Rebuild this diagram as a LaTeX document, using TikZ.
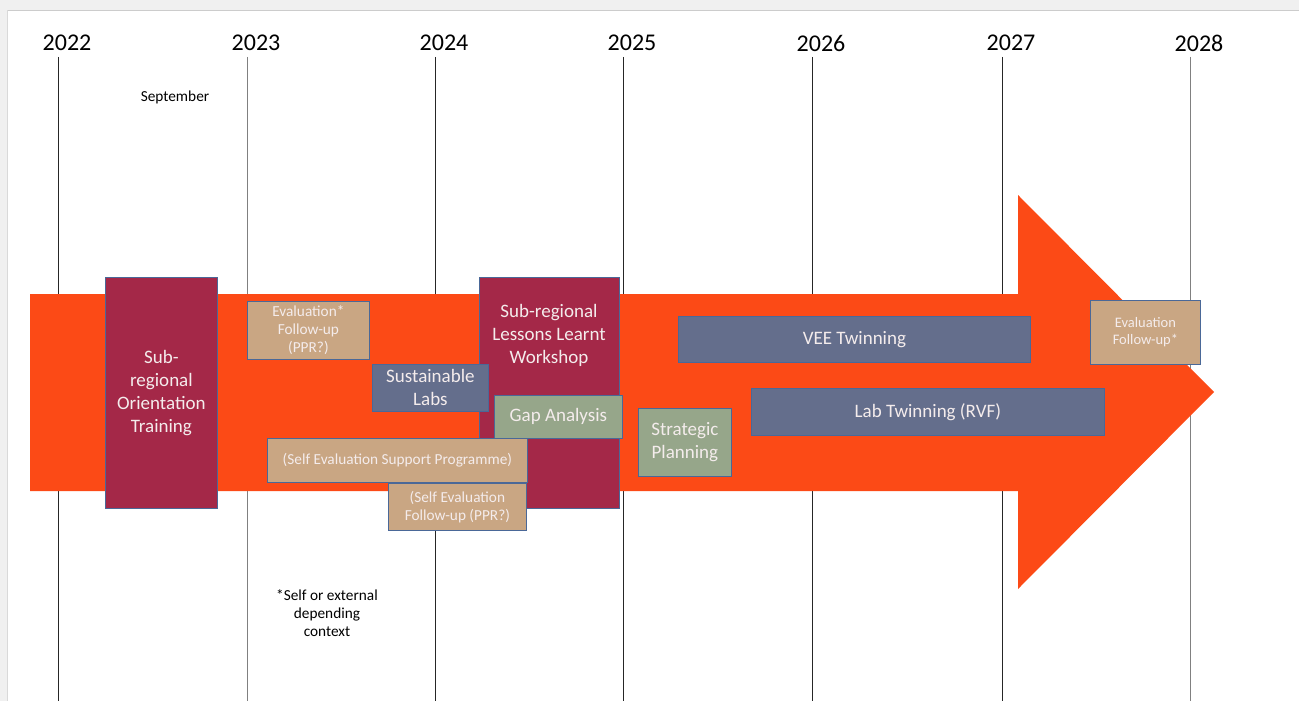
\documentclass[tikz,border=0pt]{standalone}
\usepackage{fontspec}
\setmainfont{Carlito}
\usepackage{tikz}
\usetikzlibrary{positioning}
\definecolor{arrowred}{RGB}{252,74,22}
\definecolor{maroon}{RGB}{164,40,72}
\definecolor{tan}{RGB}{201,166,131}
\definecolor{slate}{RGB}{100,110,140}
\definecolor{sage}{RGB}{150,166,138}
\definecolor{edge}{RGB}{74,104,152}
\definecolor{boxtext}{RGB}{244,236,236}
\definecolor{frame}{RGB}{240,240,240}

\begin{document}
\begin{tikzpicture}[x=1pt, y=-1pt, every node/.style={align=center, inner sep=0pt},
box/.style={draw=edge, line width=0.8pt, text=boxtext, anchor=north west,
font=\fontsize{19}{23}\selectfont},
small/.style={font=\fontsize{15.3}{18}\selectfont}]
\useasboundingbox (0,0) rectangle (1299,701);
% screenshot frame
\fill[frame] (0,0) rectangle (1299,10);
\draw[gray!40] (8,10.5) -- (1299,10.5);
\fill[frame] (0,10) rectangle (7.5,701);
\draw[gray!30] (7.5,10.5) -- (7.5,701);
% years
\foreach \yr/\x/\c in {2022/58/black!85, 2023/247/gray, 2024/435/black!85,
2025/623/black!85, 2026/812/black!85, 2027/1002/black!85, 2028/1190/gray}{
\node[font=\fontsize{24}{28}\selectfont] (y\yr) at (\x+9,43) {\yr};
\draw[\c, line width=1pt] (\x,57) -- (\x,701);}
% big arrow
\fill[arrowred] (30,294) -- (1018,294) -- (1018,195) -- (1214,392)
-- (1018,589) -- (1018,491) -- (30,491) -- cycle;
% activities
\node[box, fill=maroon, minimum width=112pt, minimum height=231pt] (orient) at (105,277)
{Sub-\\regional\\Orientation\\Training};
\node[box, small, fill=tan, minimum width=122pt, minimum height=58pt] (evalfu) at (247,301)
{Evaluation*\\Follow-up\\(PPR?)};
\node[box, fill=maroon, minimum width=140pt, minimum height=231pt, anchor=north west] (lessons) at (479,277) {};
\node[text=boxtext, font=\fontsize{19}{23}\selectfont] at (549,335) {Sub-regional\\Lessons Learnt\\Workshop};
\node[box, fill=slate, minimum width=116pt, minimum height=47pt] (labs) at (372,364)
{Sustainable\\Labs};
\node[box, fill=sage, minimum width=128pt, minimum height=43pt] (gap) at (494,395)
{Gap Analysis};
\node[box, fill=sage, minimum width=93pt, minimum height=68pt] (strat) at (638,408)
{Strategic\\Planning};
\node[box, small, fill=tan, minimum width=260pt, minimum height=44pt] (sesp) at (267,438)
{(Self Evaluation Support Programme)};
\node[box, small, fill=tan, minimum width=138pt, minimum height=47pt] (sefu) at (388,483)
{(Self Evaluation\\Follow-up (PPR?)};
\node[box, fill=slate, minimum width=352pt, minimum height=46pt] (vee) at (678,316)
{VEE Twinning};
\node[box, fill=slate, minimum width=353pt, minimum height=47pt] (labtw) at (751,388)
{Lab Twinning (RVF)};
\node[box, fill=tan, minimum width=110pt, minimum height=64pt,
font=\fontsize{14.5}{17}\selectfont] (evalfu2) at (1090,300)
{Evaluation\\Follow-up*};
% notes
\node[small] (sept) at (175,97) {September};
\node[small] (note) at (327,613) {*Self or external\\depending\\context};
\end{tikzpicture}
\end{document}
